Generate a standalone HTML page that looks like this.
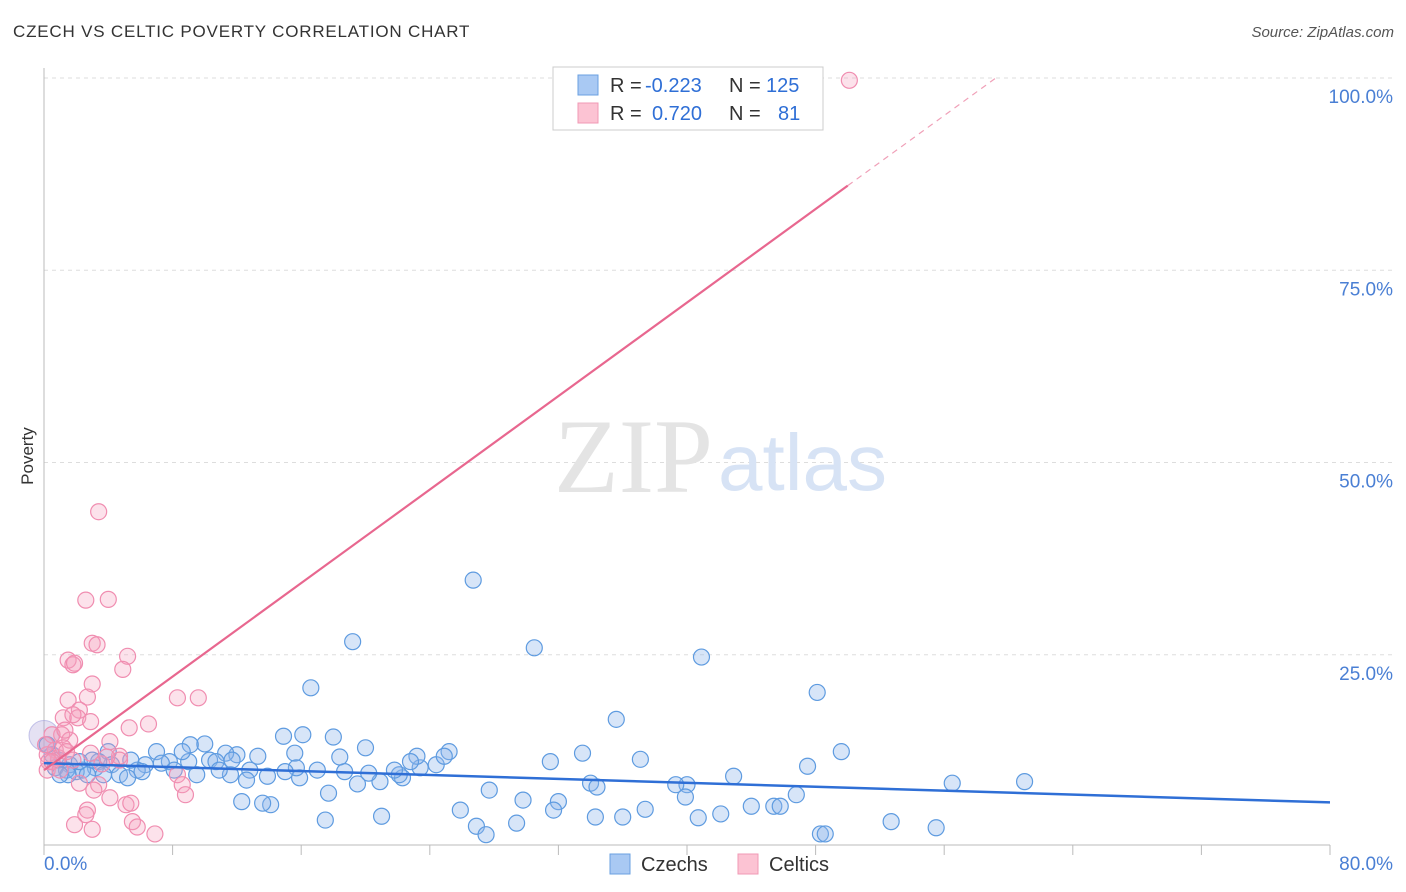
<!DOCTYPE html>
<html><head><meta charset="utf-8"><style>
html,body{margin:0;padding:0;background:#fff;}
body{width:1406px;height:892px;position:relative;overflow:hidden;font-family:"Liberation Sans",sans-serif;}
#title{position:absolute;left:13px;top:22px;font-size:17px;color:#333;letter-spacing:0.8px;}
#source{position:absolute;right:12px;top:24px;font-size:15px;color:#555;font-style:italic;}
svg{position:absolute;left:0;top:0;}
</style></head><body>
<div id="title">CZECH VS CELTIC POVERTY CORRELATION CHART</div>
<div id="source">Source: ZipAtlas.com</div>
<svg id="chart" width="1406" height="892"></svg>
<script>
const czechX=[26.7,19.2,30.5,40.9,16.6,48.1,35.6,49.6,37.1,33.5,31.5,47.5,42.9,56.5,61.0,40.0,34.0,34.4,39.3,46.8,39.9,44.0,45.4,45.8,42.1,36.0,34.3,29.8,32.0,31.7,27.7,25.9,26.9,27.5,29.4,48.3,48.6,52.7,55.5,37.4,40.7,21.0,17.5,14.1,13.6,12.3,17.7,15.9,19.5,20.9,22.3,22.1,23.4,24.4,25.2,24.9,23.2,22.8,21.8,20.2,18.7,18.4,20.0,18.0,16.1,14.9,15.6,17.0,15.7,15.0,13.9,12.8,12.0,13.3,11.3,10.3,10.7,9.0,9.5,11.6,12.6,10.0,9.1,8.6,7.8,7.0,6.3,5.8,5.4,4.0,4.2,3.4,3.2,2.4,2.0,1.6,1.4,0.9,0.7,0.5,0.2,3.7,4.7,5.2,6.1,7.3,8.1,10.9,11.7,2.7,2.2,1.5,1.0,3.0];
const czechY=[34.7,26.7,25.9,24.7,20.7,20.1,16.6,12.4,11.4,12.2,11.1,10.5,9.2,8.3,8.5,8.1,8.3,7.8,8.1,6.8,6.5,5.3,5.3,5.3,4.3,3.9,3.9,6.1,5.9,4.8,7.4,4.8,2.7,1.6,3.1,1.7,1.7,3.3,2.5,4.9,3.8,4.0,3.5,5.5,5.7,5.9,7.0,9.0,8.2,8.5,9.0,9.4,10.3,10.7,12.4,11.8,11.8,11.1,10.0,9.6,9.8,11.7,12.9,14.3,14.6,14.4,12.2,10.0,10.3,9.8,9.2,10.0,12.0,11.8,12.2,11.3,11.1,11.1,9.4,9.4,8.7,13.4,13.3,12.4,11.1,12.4,10.7,10.0,11.3,12.4,10.7,11.1,10.3,10.0,9.8,10.7,10.0,11.3,10.3,12.0,13.3,9.4,9.4,9.0,9.8,10.9,10.0,10.0,11.3,9.4,11.1,9.4,9.4,11.3];
const celticX=[50.1,3.4,2.6,4.0,3.0,3.3,5.2,1.5,1.8,1.9,4.9,3.0,9.6,8.3,1.5,2.7,2.2,1.2,2.1,1.8,2.9,5.3,6.5,1.1,1.6,0.5,0.7,0.9,0.2,0.3,1.2,1.4,4.1,4.7,2.9,1.8,3.6,8.3,8.6,8.8,2.2,3.4,3.1,4.1,5.1,5.4,2.7,2.6,5.5,5.8,1.9,3.0,6.9,0.2,0.5,1.0,0.1,4.7,3.9,1.3];
const celticY=[99.7,43.6,32.1,32.2,26.5,26.3,24.8,24.3,23.7,23.9,23.1,21.2,19.4,19.4,19.1,19.5,17.8,16.8,16.8,17.2,16.3,15.5,16.0,14.6,13.9,14.6,12.6,11.6,12.0,11.1,12.9,12.4,13.7,11.8,12.2,11.3,10.8,9.4,8.1,6.8,8.3,8.1,7.4,6.4,5.5,5.7,4.8,4.2,3.3,2.6,2.9,2.3,1.7,10.0,11.1,10.0,13.3,11.3,11.7,15.2];
const yTicks=[25,50,75,100];
const yTickLabels=["25.0%","50.0%","75.0%","100.0%"];
const xTickValues=[0,8,16,24,32,40,48,56,64,72,80];
const czechTrend=[10.9,5.8];   // y at x=0 and x=80
const celticTrend=[10.0,1.52]; // intercept, slope
const celticSolidEnd=50;

const svg=document.getElementById('chart');
const NS='http://www.w3.org/2000/svg';
const X0=44,X1=1330,Y0=847,Y100=78;
const sx=v=>X0+(X1-X0)*v/80;
const sy=v=>Y0-(Y0-Y100)*v/100;
function el(t,a){const e=document.createElementNS(NS,t);for(const k in a)e.setAttribute(k,a[k]);svg.appendChild(e);return e;}

yTicks.forEach((t,i)=>{
  const g=el('line',{x1:X0,x2:1395,y1:sy(t),y2:sy(t),stroke:'#ddd','stroke-dasharray':'4,4','stroke-width':1});
  
  
  const tx=el('text',{x:1393,y:sy(t)+25,'text-anchor':'end','font-size':19,fill:'#4a7fd4','font-family':'Liberation Sans, sans-serif'});
  tx.textContent=yTickLabels[i];
  
  
});
const ya=el('line',{x1:X0,x2:X0,y1:68,y2:845,stroke:'#bbb','stroke-width':1});


const xa=el('line',{x1:X0,x2:X1,y1:845,y2:845,stroke:'#bbb','stroke-width':1});


xTickValues.forEach(v=>{
  const t=el('line',{x1:sx(v),x2:sx(v),y1:845,y2:855,stroke:'#bbb'});
  
  
});
const xl0=el('text',{x:44,y:870,'font-size':19,fill:'#4a7fd4'});xl0.textContent='0.0%';


const xl1=el('text',{x:1393,y:870,'font-size':19,fill:'#4a7fd4','text-anchor':'end'});xl1.textContent='80.0%';


const yt=el('text',{x:33,y:456,'font-size':17,fill:'#333','text-anchor':'middle',transform:'rotate(-90 33 456)'});yt.textContent='Poverty';


const wm=el('text',{x:554,y:492,'font-size':106,fill:'#e4e4e4','font-family':'Liberation Serif, serif'});wm.textContent='ZIP';


const wm2=el('text',{x:718,y:490,'font-size':80,fill:'#d7e3f5'});wm2.textContent='atlas';



const bc=el('circle',{cx:sx(0),cy:sy(14.5),r:15,fill:'rgba(180,170,220,0.35)',stroke:'rgba(160,160,220,0.6)'});



czechX.forEach((x,i)=>{
  const c=el('circle',{cx:sx(x),cy:sy(czechY[i]),r:8,fill:'rgba(140,180,235,0.35)',stroke:'#5e9be0','stroke-width':1.2});
  
  
});
celticX.forEach((x,i)=>{
  const c=el('circle',{cx:sx(x),cy:sy(celticY[i]),r:8,fill:'rgba(245,160,190,0.3)',stroke:'#f08db0','stroke-width':1.2});
  
  
});
const bl=el('line',{x1:sx(0),y1:sy(czechTrend[0]),x2:sx(80),y2:sy(czechTrend[1]),stroke:'#2f6fd6','stroke-width':2.5});


const cy=x=>celticTrend[0]+celticTrend[1]*x;
const pl=el('line',{x1:sx(0),y1:sy(cy(0)),x2:sx(celticSolidEnd),y2:sy(cy(celticSolidEnd)),stroke:'#e8678f','stroke-width':2.2});


const xEnd=(100-celticTrend[0])/celticTrend[1];
const pd=el('line',{x1:sx(celticSolidEnd),y1:sy(cy(celticSolidEnd)),x2:sx(xEnd),y2:sy(100),stroke:'#f0a0b8','stroke-width':1.2,'stroke-dasharray':'6,5'});



const lb=el('rect',{x:553,y:67,width:270,height:63,fill:'#fff',stroke:'#ccc'});


[[0,'#a9c9f3','#6aa0e0','-0.223','125'],[1,'#fcc3d3','#f09ab5','0.720','81']].forEach(r=>{
  const y=85+r[0]*28;
  const s=el('rect',{x:578,y:y-10,width:20,height:20,fill:r[1],stroke:r[2]});
  
  
  const t=el('text',{x:610,y:y+7,'font-size':20,fill:'#333'});
  t.innerHTML='R = <tspan fill="#2f6fd6" x="'+(r[0]?652:645)+'">'+r[3]+'</tspan>';
  
  
  const n=el('text',{x:729,y:y+7,'font-size':20,fill:'#333'});
  n.innerHTML='N = <tspan fill="#2f6fd6" x="'+(r[0]?778:766)+'">'+r[4]+'</tspan>';
  
  
});
[[610,'#a9c9f3','#6aa0e0','Czechs'],[738,'#fcc3d3','#f09ab5','Celtics']].forEach(r=>{
  const s=el('rect',{x:r[0],y:854,width:20,height:20,fill:r[1],stroke:r[2]});
  
  
  const t=el('text',{x:r[0]+31,y:871,'font-size':20,fill:'#333'});t.textContent=r[3];
  
  
});
</script>
</body></html>
